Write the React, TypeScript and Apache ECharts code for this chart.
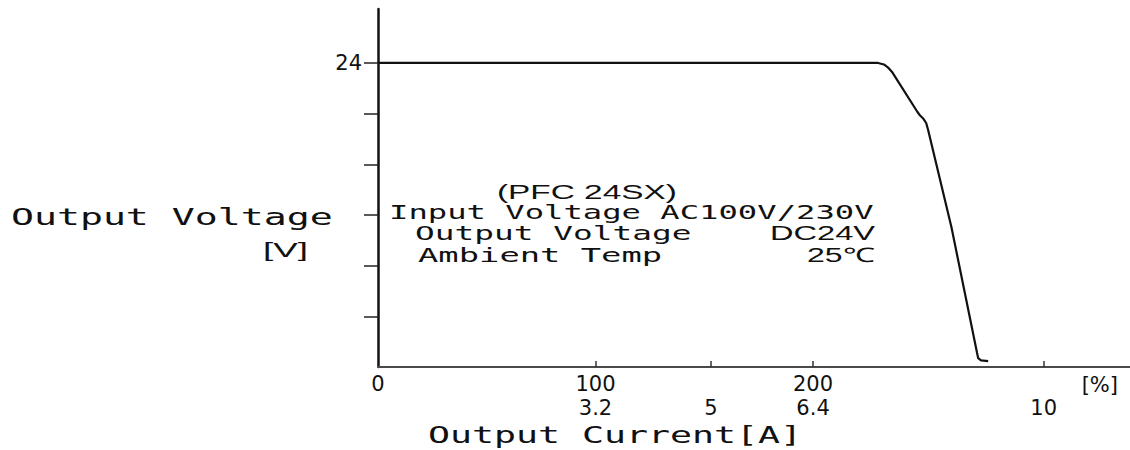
import React, { useEffect, useRef } from "react";
import * as echarts from "echarts";

// Output current in % of rated, and output voltage [V]
const currentPct = [0, 229.9, 232.6, 234.5, 236.3, 248, 249.2, 250.6, 252, 252.9, 263.6, 275.4, 275.9, 277.2, 280.5];
const voltageV = [24, 24, 23.88, 23.64, 23.29, 20.13, 19.85, 19.62, 19.26, 18.71, 11.05, 1.1, 0.7, 0.52, 0.47];

// Axis ticks / labels
const pctLabelValues = [0, 100, 200];
const pctTickValues = [100, 153, 200, 306];
const ampTickPct = [100, 153, 200, 306];
const ampLabels = ["3.2", "5", "6.4", "10"];
const voltTickValues = [4, 8, 12, 16, 20, 24];
const voltLabelValues = [24];

const MONO = "DejaVu Sans Mono";
const SANS = "Liberation Sans";
const TICK_FONT = "DejaVu Sans";
const TICK_SIZE = 21;

function txt(text: string, x: number, y: number, family: string, size: number, sx: number, align: string) {
  return {
    type: "text",
    x,
    y,
    scaleX: sx,
    style: {
      text,
      fontFamily: family,
      fontSize: size,
      fill: "#111",
      textAlign: align,
      textVerticalAlign: "middle",
      align,
      verticalAlign: "middle",
    },
  };
}

export default function App() {
  const ref = useRef<HTMLDivElement>(null);
  useEffect(() => {
    if (!ref.current) return;
    const chart = echarts.init(ref.current, null, { renderer: "svg" });
    chart.setOption({
      animation: false,
      backgroundColor: "#fff",
      grid: { left: 378, right: 0, top: 9, bottom: 83, containLabel: false },
      xAxis: [
        {
          type: "value",
          min: 0,
          max: 345.7,
          position: "bottom",
          splitLine: { show: false },
          axisLine: { show: true, lineStyle: { color: "#4a4a4a", width: 2 } },
          axisTick: { show: true, inside: true, length: 6, customValues: pctTickValues, lineStyle: { color: "#333", width: 1.5 } },
          axisLabel: {
            show: true,
            customValues: pctLabelValues,
            margin: 6,
            color: "#111",
            fontFamily: TICK_FONT,
            fontSize: TICK_SIZE,
          },
          name: "[%]",
          nameLocation: "end",
          nameGap: -12,
          nameTextStyle: {
            color: "#111",
            fontFamily: TICK_FONT,
            fontSize: TICK_SIZE,
            align: "right",
            verticalAlign: "top",
            padding: [7, 0, 0, 0],
          },
        },
        {
          type: "value",
          min: 0,
          max: 345.7,
          position: "bottom",
          splitLine: { show: false },
          axisLine: { show: false },
          axisTick: { show: false },
          axisLabel: {
            show: true,
            customValues: ampTickPct,
            margin: 30,
            color: "#111",
            fontFamily: TICK_FONT,
            fontSize: TICK_SIZE,
            formatter: (v: number) => {
              const i = ampTickPct.indexOf(v);
              return i >= 0 ? ampLabels[i] : "";
            },
          },
        },
      ],
      yAxis: {
        type: "value",
        min: 0,
        max: 28.26,
        splitLine: { show: false },
        axisLine: { show: true, lineStyle: { color: "#111", width: 2.5 } },
        axisTick: { show: true, inside: false, length: 14, customValues: voltTickValues, lineStyle: { color: "#222", width: 1.5 } },
        axisLabel: {
          show: true,
          customValues: voltLabelValues,
          margin: 16,
          color: "#111",
          fontFamily: TICK_FONT,
          fontSize: TICK_SIZE,
        },
      },
      series: [
        {
          type: "line",
          xAxisIndex: 0,
          data: currentPct.map((x, i) => [x, voltageV[i]]),
          showSymbol: false,
          symbol: "none",
          smooth: false,
          lineStyle: { color: "#111", width: 2.2 },
        },
      ],
      graphic: [
        txt("Output Voltage", 11, 217, MONO, 23, 1.66, "left"),
        txt("[V]", 263, 250, SANS, 20, 1.84, "left"),
        txt("(PFC 24SX)", 497, 192, SANS, 21, 1.59, "left"),
        txt("Input Voltage AC100V/230V", 389, 212, MONO, 20, 1.61, "left"),
        txt("Output Voltage", 415, 233, MONO, 20, 1.64, "left"),
        txt("DC24V", 875, 233, SANS, 20, 1.63, "right"),
        txt("Ambient Temp", 418, 255, MONO, 20, 1.69, "left"),
        txt("25℃", 875, 255, SANS, 20, 1.6, "right"),
        txt("Output Current[A]", 428, 435, MONO, 23, 1.59, "left"),
      ],
    });
    return () => chart.dispose();
  }, []);
  return <div ref={ref} style={{ position: "fixed", left: 0, top: 0, width: 1130, height: 450 }} />;
}
